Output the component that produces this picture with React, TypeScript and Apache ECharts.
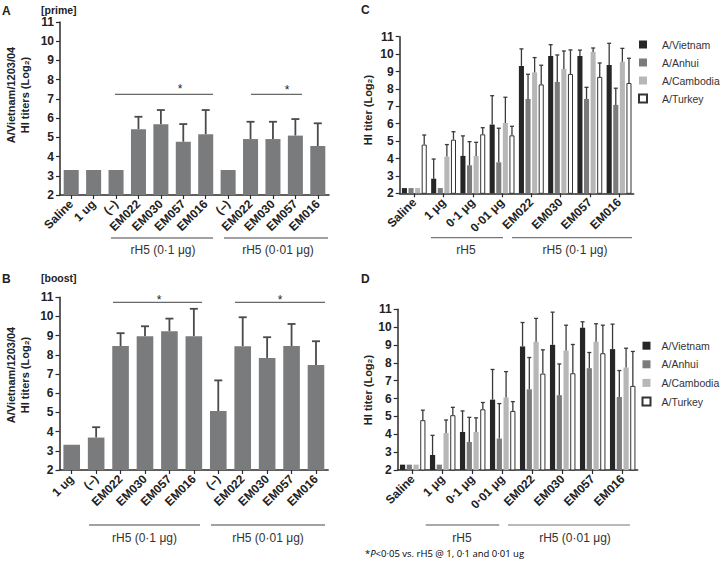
import React, { useEffect, useRef } from "react";
import * as echarts from "echarts";

const catsA = ["Saline", "1 ug", "(–)", "EM022", "EM030", "EM057", "EM016", "(–)", "EM022", "EM030", "EM057", "EM016"];
const valsA = [3.3, 3.3, 3.3, 5.42, 5.68, 4.77, 5.16, 3.3, 4.91, 4.91, 5.09, 4.55];
const errA = [null, null, null, 6.07, 6.42, 5.69, 6.42, null, 5.81, 5.81, 5.95, 5.73];

const catsB = ["1 ug", "(–)", "EM022", "EM030", "EM057", "EM016", "(–)", "EM022", "EM030", "EM057", "EM016"];
const valsB = [3.31, 3.69, 8.46, 8.97, 9.23, 8.97, 5.07, 8.45, 7.84, 8.46, 7.47];
const errB = [null, 4.23, 9.13, 9.49, 9.89, 10.4, 6.67, 9.96, 8.92, 9.61, 8.71];

const catsCD = ["Saline", "1 μg", "0·1 μg", "0·01 μg", "EM022", "EM030", "EM057", "EM016"];
const strains = ["A/Vietnam", "A/Anhui", "A/Cambodia", "A/Turkey"];

const cVietnam = [2.3, 2.84, 4.15, 5.95, 9.32, 9.89, 9.89, 9.38];
const cVietnamErr = [null, 3.97, 5.3, 7.61, 10.3, 10.54, 10.23, 10.62];
const cAnhui = [2.3, 2.3, 3.61, 3.78, 7.42, 8.4, 7.42, 7.08];
const cAnhuiErr = [null, null, 4.97, 5.74, 8.84, 9.95, 8.09, 8.04];
const cCambodia = [2.3, 4.11, 4.15, 6.04, 8.95, 9.15, 10.12, 9.56];
const cCambodiaErr = [null, 4.8, 4.93, 7.52, 9.8, 10.18, 10.35, 10.33];
const cTurkey = [4.8, 5.08, 5.39, 5.33, 8.26, 8.86, 8.69, 8.34];
const cTurkeyErr = [5.35, 5.54, 5.77, 5.85, 9.36, 10.24, 9.49, 9.76];

const dVietnam = [2.3, 2.84, 4.13, 5.94, 8.92, 9.01, 9.96, 8.77];
const dVietnamErr = [null, 3.94, 5.31, 7.63, 10.26, 10.84, 10.3, 10.17];
const dAnhui = [2.3, 2.3, 3.57, 3.76, 6.52, 6.19, 7.7, 6.09];
const dAnhuiErr = [null, null, 4.95, 5.72, 8.3, 7.94, 8.58, 7.57];
const dCambodia = [2.3, 4.07, 4.13, 6.06, 9.18, 8.69, 9.18, 7.74];
const dCambodiaErr = [null, 4.8, 4.92, 7.51, 10.49, 10.11, 10.19, 8.82];
const dTurkey = [4.79, 5.07, 5.4, 5.31, 7.4, 7.42, 8.54, 6.71];
const dTurkeyErr = [5.35, 5.51, 5.78, 5.83, 8.73, 9.03, 10.11, 8.64];

const yTicks = [2, 11, 1]; // min, max, interval

const FONT = "'Liberation Sans', Arial, Helvetica, sans-serif";
const AXIS = "#2b2b2b";
const strainColors = ["#262626", "#7b7b7b", "#b7b7b7", "#ffffff"];

function errRender(n: number, idx: number, catGap: number, barGap: number, capW: number, color: string, lw: number) {
  return (params: any, api: any) => {
    const cat = api.value(0);
    const v = api.value(1);
    const e = api.value(2);
    if (e == null || isNaN(e)) return null;
    const band = api.size([1, 0])[0];
    const w = (band * (1 - catGap)) / (n + (n - 1) * barGap);
    const total = n * w + (n - 1) * barGap * w;
    const off = -total / 2 + w / 2 + idx * w * (1 + barGap);
    const p1 = api.coord([cat, v]);
    const p2 = api.coord([cat, e]);
    const x = p1[0] + off;
    const style = { stroke: color, lineWidth: lw };
    return {
      type: "group",
      children: [
        { type: "line", shape: { x1: x, y1: p1[1], x2: x, y2: p2[1] }, style },
        { type: "line", shape: { x1: x - capW / 2, y1: p2[1], x2: x + capW / 2, y2: p2[1] }, style },
      ],
    };
  };
}

function yAxis(gi: number) {
  return {
    type: "value",
    gridIndex: gi,
    min: yTicks[0],
    max: yTicks[1],
    interval: yTicks[2],
    axisLine: { show: true, lineStyle: { color: AXIS, width: 1.5 } },
    axisTick: { show: true, length: 4, lineStyle: { color: AXIS, width: 1.2 } },
    splitLine: { show: false },
    axisLabel: { fontFamily: FONT, fontWeight: "bold", fontSize: 12, color: "#222", margin: 6 },
  };
}

function xAxis(gi: number, data: string[]) {
  return {
    type: "category",
    gridIndex: gi,
    data,
    axisLine: { show: true, onZero: false, lineStyle: { color: AXIS, width: 1.5 } },
    axisTick: { show: true, alignWithLabel: true, length: 4, lineStyle: { color: AXIS, width: 1.2 } },
    axisLabel: { interval: 0, rotate: 45, fontFamily: FONT, fontWeight: "bold", fontSize: 12, color: "#222", margin: 7 },
  };
}

function toErrData(vals: number[], errs: (number | null)[]) {
  return vals.map((v, i) => [i, v, errs[i] == null ? NaN : errs[i]]);
}

export default function App() {
  const ref = useRef<HTMLDivElement>(null);
  useEffect(() => {
    document.body.style.margin = "0";
    const chart = echarts.init(ref.current!, undefined, { renderer: "svg" });

    const series: any[] = [];
    // Panel A
    series.push({
      type: "bar", xAxisIndex: 0, yAxisIndex: 0, data: valsA, barCategoryGap: "33%",
      itemStyle: { color: "#7a7b7d" }, silent: true,
    });
    series.push({
      type: "custom", xAxisIndex: 0, yAxisIndex: 0, data: toErrData(valsA, errA), encode: { x: 0, y: 1 },
      renderItem: errRender(1, 0, 0.33, 0, 8, "#4a4a4a", 1.8), silent: true,
    });
    // Panel B
    series.push({
      type: "bar", xAxisIndex: 1, yAxisIndex: 1, data: valsB, barCategoryGap: "32%",
      itemStyle: { color: "#7a7b7d" }, silent: true,
    });
    series.push({
      type: "custom", xAxisIndex: 1, yAxisIndex: 1, data: toErrData(valsB, errB), encode: { x: 0, y: 1 },
      renderItem: errRender(1, 0, 0.32, 0, 8, "#4a4a4a", 1.8), silent: true,
    });

    const cVals = [cVietnam, cAnhui, cCambodia, cTurkey];
    const cErrs = [cVietnamErr, cAnhuiErr, cCambodiaErr, cTurkeyErr];
    const dVals = [dVietnam, dAnhui, dCambodia, dTurkey];
    const dErrs = [dVietnamErr, dAnhuiErr, dCambodiaErr, dTurkeyErr];

    [[2, cVals, cErrs], [3, dVals, dErrs]].forEach(([gi, vals, errs]: any) => {
      strains.forEach((name, k) => {
        series.push({
          type: "bar", name, xAxisIndex: gi, yAxisIndex: gi, data: vals[k],
          barCategoryGap: "15%", barGap: "30%", silent: true,
          itemStyle: { color: strainColors[k], borderColor: k === 3 ? "#333" : strainColors[k], borderWidth: k === 3 ? 1 : 0 },
        });
      });
      strains.forEach((name, k) => {
        series.push({
          type: "custom", xAxisIndex: gi, yAxisIndex: gi, data: toErrData(vals[k], errs[k]), encode: { x: 0, y: 1 },
          renderItem: errRender(4, k, 0.15, 0.3, 4, "#3a3a3a", 1.3), silent: true, z: 3,
        });
      });
    });

    const txt = (x: number, y: number, text: string, opts: any = {}) => ({
      type: "text", x, y, rotation: opts.rotation || 0,
      style: {
        text, fill: opts.fill || "#222", align: opts.align || "left", verticalAlign: "middle",
        font: `${opts.weight || "normal"} ${opts.size || 12}px ${opts.family || FONT}`,
      },
    });
    const ln = (x1: number, y1: number, x2: number, y2: number, color = "#444", w = 1) => ({
      type: "line", shape: { x1, y1, x2, y2 }, style: { stroke: color, lineWidth: w },
    });

    const graphic: any[] = [
      txt(2, 11, "A", { weight: "bold", size: 12 }),
      txt(41, 9.5, "[prime]", { weight: "bold", size: 10.5 }),
      txt(2, 279, "B", { weight: "bold", size: 12 }),
      txt(41, 278, "[boost]", { weight: "bold", size: 10.5 }),
      txt(361, 10, "C", { weight: "bold", size: 12 }),
      txt(361, 279, "D", { weight: "bold", size: 12 }),
      // y titles
      txt(10.5, 95, "A/Vietnam/1203/04", { weight: "bold", size: 11, align: "center", rotation: Math.PI / 2 }),
      txt(25, 95, "HI titers (Log₂)", { weight: "bold", size: 11, align: "center", rotation: Math.PI / 2 }),
      txt(10.5, 375, "A/Vietnam/1203/04", { weight: "bold", size: 11, align: "center", rotation: Math.PI / 2 }),
      txt(25, 375, "HI titers (Log₂)", { weight: "bold", size: 11, align: "center", rotation: Math.PI / 2 }),
      txt(368, 110, "HI titer (Log₂)", { weight: "bold", size: 11, align: "center", rotation: Math.PI / 2 }),
      txt(368, 390, "HI titer (Log₂)", { weight: "bold", size: 11, align: "center", rotation: Math.PI / 2 }),
      // significance A
      ln(115, 94.3, 213, 94.3, "#444", 1),
      txt(180, 89, "*", { size: 12, align: "center" }),
      ln(251, 94.3, 302, 94.3, "#444", 1),
      txt(287, 90, "*", { size: 12, align: "center" }),
      // significance B
      ln(113, 302.3, 202, 302.3, "#444", 1),
      txt(159, 300, "*", { size: 12, align: "center" }),
      ln(235, 302.3, 325, 302.3, "#444", 1),
      txt(280, 300, "*", { size: 12, align: "center" }),
      // group labels A
      ln(111, 238, 213, 238, "#444", 1),
      txt(163, 250, "rH5 (0·1 μg)", { size: 12, align: "center", fill: "#333" }),
      ln(224, 238, 328, 238, "#444", 1),
      txt(278, 250, "rH5 (0·01 μg)", { size: 12, align: "center", fill: "#333" }),
      // group labels B
      ln(89, 525, 200, 525, "#444", 1),
      txt(144.5, 538, "rH5 (0·1 μg)", { size: 12, align: "center", fill: "#333" }),
      ln(211, 525, 325, 525, "#444", 1),
      txt(268, 538, "rH5 (0·01 μg)", { size: 12, align: "center", fill: "#333" }),
      // group labels C
      ln(431, 237.7, 503, 237.7, "#777", 1.2),
      txt(466, 250, "rH5", { size: 12, align: "center", fill: "#333" }),
      ln(512, 237.7, 632, 237.7, "#777", 1.2),
      txt(575, 250, "rH5 (0·1 μg)", { size: 12, align: "center", fill: "#333" }),
      // group labels D
      ln(425.7, 525, 499.3, 525, "#555", 1.2),
      txt(462, 537.7, "rH5", { size: 12, align: "center", fill: "#333" }),
      ln(508, 525, 630, 525, "#777", 1.2),
      txt(575, 537.7, "rH5 (0·01 μg)", { size: 12, align: "center", fill: "#333" }),
      // footnote
      {
        type: "text", x: 365, y: 553,
        style: {
          text: "{a|*}{i|P}{a|<0·05 vs. rH5 @ 1, 0·1 and 0·01 ug}",
          verticalAlign: "middle", align: "left",
          rich: {
            a: { fontFamily: "'Open Sans', sans-serif", fontSize: 9.5, color: "#333" },
            i: { fontFamily: "'Open Sans', sans-serif", fontSize: 9.5, fontStyle: "italic", color: "#333" },
          },
        },
      },
    ];

    const legendBase = {
      data: strains, orient: "vertical", itemWidth: 8, itemHeight: 8, icon: "rect", selectedMode: false, padding: 0,
    };
    const legendText = (padLeft: number) => ({
      fontFamily: FONT, fontSize: 10.5, color: "#333", lineHeight: 12, padding: [0, 0, 0, padLeft],
    });

    chart.setOption({
      animation: false,
      backgroundColor: "#ffffff",
      grid: [
        { left: 60, top: 22, width: 269, height: 173 },
        { left: 59.5, top: 297.3, width: 268.7, height: 172.7 },
        { left: 399.7, top: 36.7, width: 234, height: 156.6 },
        { left: 397.7, top: 309.3, width: 240, height: 160.7 },
      ],
      xAxis: [xAxis(0, catsA), xAxis(1, catsB), xAxis(2, catsCD), xAxis(3, catsCD)],
      yAxis: [yAxis(0), yAxis(1), yAxis(2), yAxis(3)],
      legend: [
        { ...legendBase, left: 638, top: 38.5, itemGap: 6, textStyle: legendText(10) },
        { ...legendBase, left: 641.5, top: 339.7, itemGap: 6.6, textStyle: legendText(6) },
      ],
      series,
      graphic,
    });
    return () => chart.dispose();
  }, []);
  return <div ref={ref} style={{ width: 720, height: 561 }} />;
}
